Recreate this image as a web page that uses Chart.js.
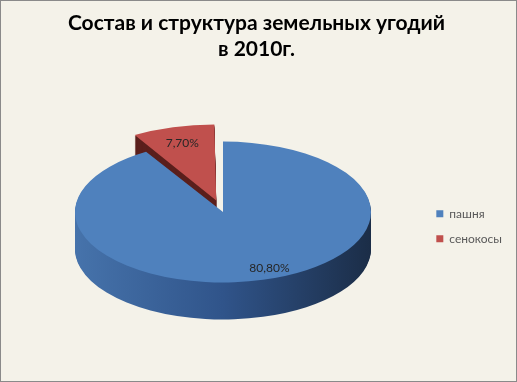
<!DOCTYPE html>
<html><head><meta charset="utf-8">
<script src="https://cdn.jsdelivr.net/npm/chart.js@4.4.1/dist/chart.umd.min.js"></script>
<style>
html,body{margin:0;padding:0;background:#fff;}
#wrap{width:515px;height:380px;border:1px solid #8a8a8a;background:#f4f2e9;}
canvas{display:block;}
</style></head><body>
<div id="wrap"><canvas id="c" width="515" height="380"></canvas></div>
<script>
const categories = ['пашня', 'сенокосы'];
const shares = [80.8, 7.7];
const shareLabels = ['80,80%', '7,70%'];
const titleLines = ['Состав и структура земельных угодий', 'в 2010г.'];
const topColors = ['#4f81bd', '#c0504d'];

const VIEW = {cx: 222, cy: 211, k: 0.476, depth: 37};
const LABEL_R = [0.86, 0.85];

function toScreen(chart, x, y) {
  const a = chart.getDatasetMeta(0).data[0];
  return {x: VIEW.cx + (x - a.x), y: VIEW.cy + (y - a.y) * VIEW.k};
}

const pie3d = {
  id: 'pie3d',
  beforeDatasetsDraw(chart) {
    const ctx = chart.ctx, meta = chart.getDatasetMeta(0), a0 = meta.data[0];
    ctx.save();
    ctx.translate(VIEW.cx - a0.x, VIEW.cy);
    ctx.scale(1, VIEW.k);
    ctx.translate(0, -a0.y);
    const R = a0.outerRadius;
    const sides = meta.data.map((arc, i) => {
      if (i === 0) {
        const g = ctx.createLinearGradient(a0.x - R, 0, a0.x + R, 0);
        g.addColorStop(0, '#4673ab');
        g.addColorStop(0.5, '#30548a');
        g.addColorStop(1, '#1b2d47');
        return g;
      }
      return '#5a1f1c';
    });
    for (let d = VIEW.depth; d >= 1; d--) {
      ctx.save();
      ctx.translate(0, d / VIEW.k);
      meta.data.forEach((arc, i) => {
        const o = arc.options;
        arc.options = Object.assign({}, o, {backgroundColor: sides[i], borderWidth: 0});
        arc.draw(ctx);
        arc.options = o;
      });
      ctx.restore();
    }
  },
  afterDatasetsDraw(chart) {
    const ctx = chart.ctx;
    ctx.restore();
    const meta = chart.getDatasetMeta(0);
    ctx.save();
    ctx.font = '12px Lato';
    ctx.fillStyle = '#262626';
    ctx.textAlign = 'center';
    ctx.textBaseline = 'middle';
    meta.data.forEach((arc, i) => {
      const mid = (arc.startAngle + arc.endAngle) / 2 - (i === 0 ? 0.1 : 0);
      const off = (arc.options.offset || 0) / 4;
      const r = arc.outerRadius * LABEL_R[i] + off;
      const p = toScreen(chart, arc.x + Math.cos(mid) * r, arc.y + Math.sin(mid) * r);
      ctx.fillText(shareLabels[i], p.x, p.y);
    });
    ctx.restore();
  }
};

new Chart(document.getElementById('c'), {
  type: 'pie',
  data: {
    labels: categories,
    datasets: [{
      data: shares,
      backgroundColor: topColors,
      borderWidth: 0,
      offset: [0, 100]
    }]
  },
  options: {
    responsive: false,
    animation: false,
    radius: 148,
    layout: {padding: {right: 4}},
    plugins: {
      title: {
        display: true,
        text: titleLines,
        color: '#000',
        font: {family: 'Lato', size: 21, weight: 'bold', lineHeight: 1.2},
        padding: {top: 10, bottom: 10}
      },
      legend: {
        position: 'right',
        fullSize: false,
        labels: {
          boxWidth: 7, boxHeight: 7, padding: 13,
          color: '#595959',
          font: {family: 'Lato', size: 12}
        }
      },
      tooltip: {enabled: false}
    }
  },
  plugins: [pie3d]
});
</script>
</body></html>
